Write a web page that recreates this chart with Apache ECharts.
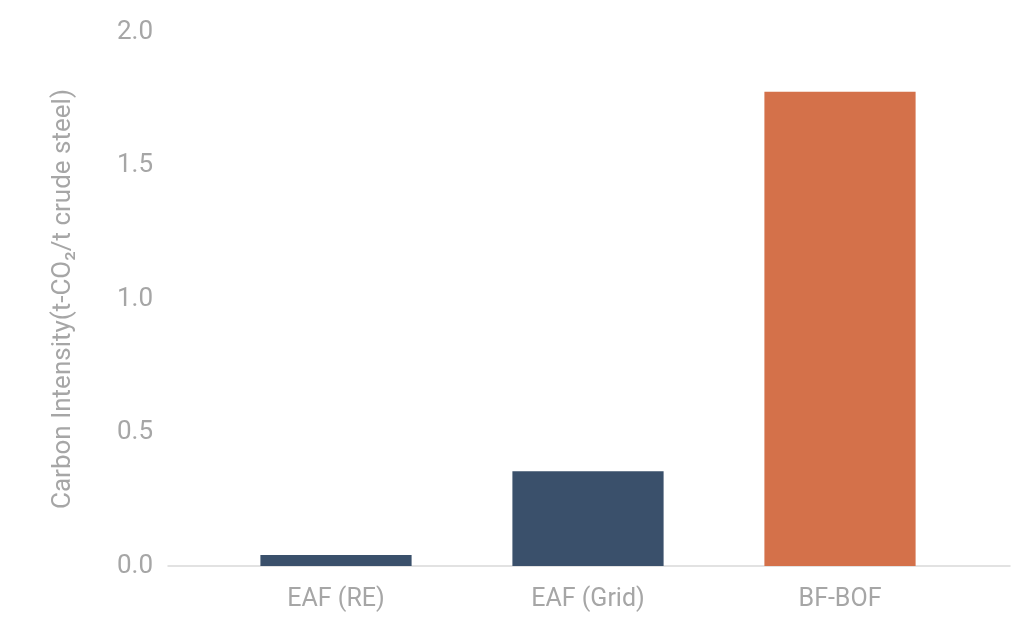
<!DOCTYPE html>
<html>
<head>
<meta charset="utf-8">
<script src="https://cdn.jsdelivr.net/npm/echarts@6/dist/echarts.min.js"></script>
<style>
html, body { margin: 0; padding: 0; background: #fff; }
#main { width: 1024px; height: 631px; }
</style>
</head>
<body>
<div id="main"></div>
<script>
var categories = ['EAF (RE)', 'EAF (Grid)', 'BF-BOF'];
var intensity = [0.041, 0.355, 1.776];
var barColors = ['#3a506b', '#3a506b', '#d4714a'];
var yTicks = [0, 0.5, 1.0, 1.5, 2.0];

var myChart = echarts.init(document.getElementById('main'));

var grey = '#a6a6a6';
var font = 'Roboto';

var option = {
    backgroundColor: '#ffffff',
    animation: false,
    grid: [
        // bars sit in the narrower grid
        { left: 210, right: 58, top: 32, bottom: 65 },
        // wide grid carries the y labels and the baseline
        { left: 168, right: 14, top: 32, bottom: 65 }
    ],
    xAxis: [
        {
            type: 'category',
            gridIndex: 0,
            data: categories,
            axisLine: { show: false },
            axisTick: { show: false },
            axisLabel: {
                color: grey,
                fontFamily: font,
                fontSize: 25,
                margin: 21
            }
        },
        {
            type: 'value',
            gridIndex: 1,
            min: 0,
            max: 1,
            axisLine: { show: true, lineStyle: { color: '#d9d9d9', width: 1.5 } },
            axisTick: { show: false },
            axisLabel: { show: false },
            splitLine: { show: false }
        }
    ],
    yAxis: [
        {
            type: 'value',
            gridIndex: 0,
            min: yTicks[0],
            max: yTicks[yTicks.length - 1],
            interval: 0.5,
            show: false
        },
        {
            type: 'value',
            gridIndex: 1,
            min: yTicks[0],
            max: yTicks[yTicks.length - 1],
            interval: 0.5,
            axisLine: { show: false },
            axisTick: { show: false },
            splitLine: { show: false },
            axisLabel: {
                color: grey,
                fontFamily: font,
                fontSize: 26,
                margin: 15,
                formatter: function (v) { return v.toFixed(1); }
            },
            name: 'Carbon Intensity(t-CO\u2082/t crude steel)',
            nameLocation: 'middle',
            nameGap: 92,
            nameTextStyle: {
                color: grey,
                fontFamily: font,
                fontSize: 26
            }
        }
    ],
    series: [
        {
            type: 'bar',
            xAxisIndex: 0,
            yAxisIndex: 0,
            barCategoryGap: '40%',
            data: intensity.map(function (v, i) {
                return { value: v, itemStyle: { color: barColors[i] } };
            })
        }
    ]
};

myChart.setOption(option);
</script>
</body>
</html>
